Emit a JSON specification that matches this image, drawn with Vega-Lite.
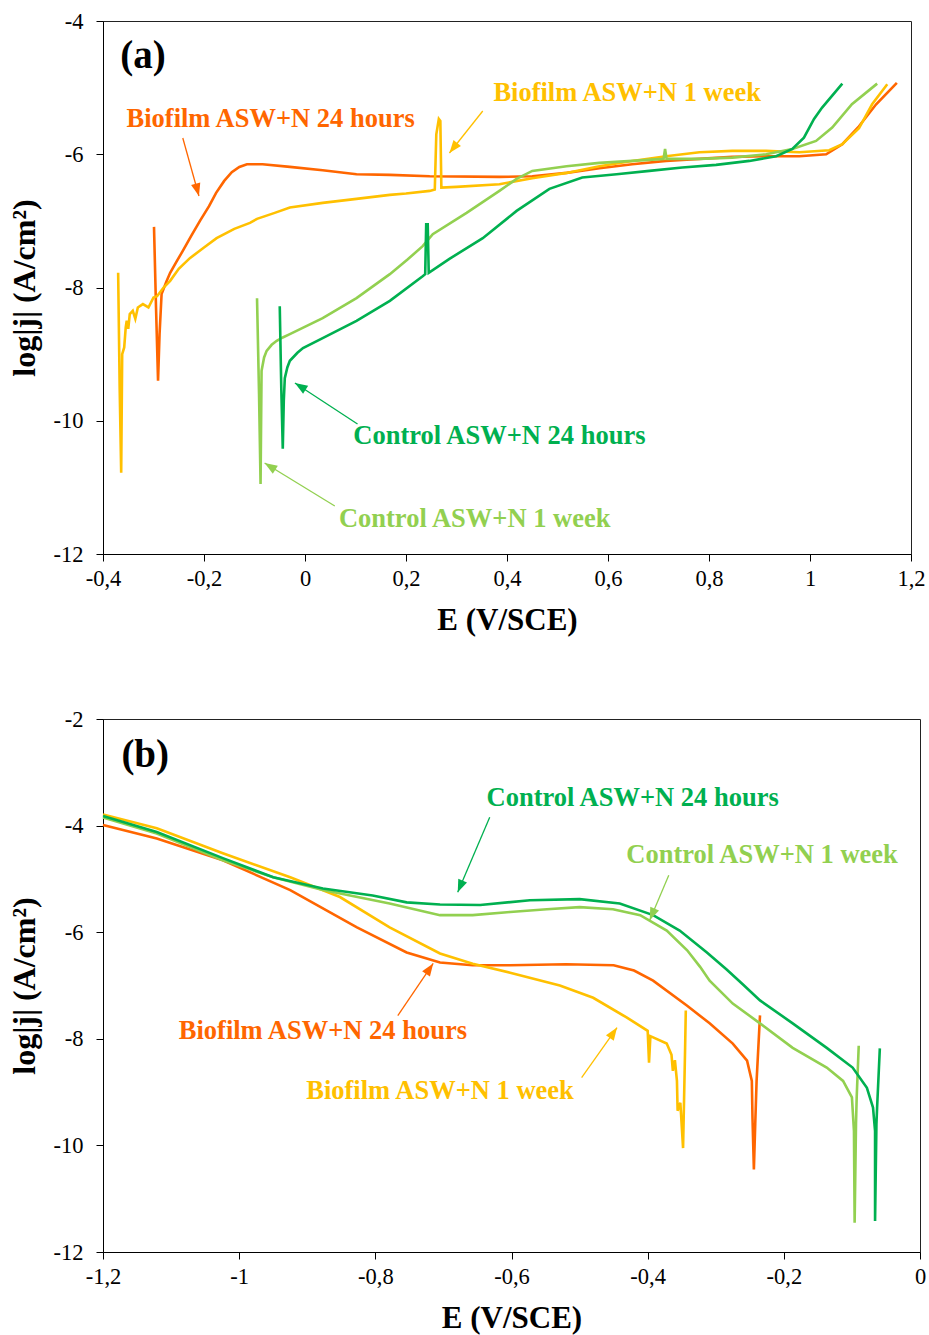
{
  "$schema": "https://vega.github.io/schema/vega-lite/v6.json",
  "padding": {"left": 7, "top": 9, "right": 3, "bottom": 1},
  "background": "white",
  "spacing": 71,
  "datasets": {
    "curvesA": [
      {"s":"B24","x":-0.299,"y":-7.09},{"s":"B24","x":-0.295,"y":-8.3},{"s":"B24","x":-0.291,"y":-9.40},{"s":"B24","x":-0.288,"y":-8.7},{"s":"B24","x":-0.284,"y":-8.1},{"s":"B24","x":-0.275,"y":-7.92},{"s":"B24","x":-0.267,"y":-7.78},{"s":"B24","x":-0.255,"y":-7.62},{"s":"B24","x":-0.242,"y":-7.45},{"s":"B24","x":-0.225,"y":-7.22},{"s":"B24","x":-0.208,"y":-7.0},{"s":"B24","x":-0.19,"y":-6.78},{"s":"B24","x":-0.176,"y":-6.58},{"s":"B24","x":-0.16,"y":-6.4},{"s":"B24","x":-0.145,"y":-6.27},{"s":"B24","x":-0.13,"y":-6.19},{"s":"B24","x":-0.115,"y":-6.15},{"s":"B24","x":-0.084,"y":-6.15},{"s":"B24","x":-0.03,"y":-6.19},{"s":"B24","x":0.035,"y":-6.24},{"s":"B24","x":0.102,"y":-6.30},{"s":"B24","x":0.168,"y":-6.31},{"s":"B24","x":0.247,"y":-6.33},{"s":"B24","x":0.385,"y":-6.34},{"s":"B24","x":0.45,"y":-6.33},{"s":"B24","x":0.518,"y":-6.28},{"s":"B24","x":0.583,"y":-6.21},{"s":"B24","x":0.648,"y":-6.15},{"s":"B24","x":0.715,"y":-6.10},{"s":"B24","x":0.781,"y":-6.07},{"s":"B24","x":0.846,"y":-6.04},{"s":"B24","x":0.913,"y":-6.03},{"s":"B24","x":0.979,"y":-6.03},{"s":"B24","x":1.032,"y":-6.00},{"s":"B24","x":1.064,"y":-5.85},{"s":"B24","x":1.097,"y":-5.58},{"s":"B24","x":1.131,"y":-5.25},{"s":"B24","x":1.172,"y":-4.93},
      {"s":"B1w","x":-0.370,"y":-7.78},{"s":"B1w","x":-0.367,"y":-9.5},{"s":"B1w","x":-0.364,"y":-10.78},{"s":"B1w","x":-0.362,"y":-9.0},{"s":"B1w","x":-0.358,"y":-8.9},{"s":"B1w","x":-0.355,"y":-8.6},{"s":"B1w","x":-0.353,"y":-8.5},{"s":"B1w","x":-0.350,"y":-8.62},{"s":"B1w","x":-0.347,"y":-8.4},{"s":"B1w","x":-0.341,"y":-8.35},{"s":"B1w","x":-0.336,"y":-8.47},{"s":"B1w","x":-0.331,"y":-8.3},{"s":"B1w","x":-0.321,"y":-8.25},{"s":"B1w","x":-0.31,"y":-8.3},{"s":"B1w","x":-0.30,"y":-8.15},{"s":"B1w","x":-0.293,"y":-8.13},{"s":"B1w","x":-0.28,"y":-8.0},{"s":"B1w","x":-0.267,"y":-7.90},{"s":"B1w","x":-0.25,"y":-7.72},{"s":"B1w","x":-0.228,"y":-7.56},{"s":"B1w","x":-0.2,"y":-7.4},{"s":"B1w","x":-0.175,"y":-7.26},{"s":"B1w","x":-0.14,"y":-7.12},{"s":"B1w","x":-0.109,"y":-7.03},{"s":"B1w","x":-0.095,"y":-6.97},{"s":"B1w","x":-0.06,"y":-6.88},{"s":"B1w","x":-0.03,"y":-6.80},{"s":"B1w","x":0.035,"y":-6.73},{"s":"B1w","x":0.102,"y":-6.67},{"s":"B1w","x":0.168,"y":-6.61},{"s":"B1w","x":0.20,"y":-6.59},{"s":"B1w","x":0.247,"y":-6.55},{"s":"B1w","x":0.257,"y":-6.53},{"s":"B1w","x":0.260,"y":-5.7},{"s":"B1w","x":0.265,"y":-5.47},{"s":"B1w","x":0.268,"y":-5.5},{"s":"B1w","x":0.270,"y":-6.5},{"s":"B1w","x":0.30,"y":-6.49},{"s":"B1w","x":0.385,"y":-6.45},{"s":"B1w","x":0.45,"y":-6.36},{"s":"B1w","x":0.518,"y":-6.28},{"s":"B1w","x":0.583,"y":-6.18},{"s":"B1w","x":0.648,"y":-6.10},{"s":"B1w","x":0.715,"y":-6.03},{"s":"B1w","x":0.781,"y":-5.97},{"s":"B1w","x":0.846,"y":-5.95},{"s":"B1w","x":0.913,"y":-5.95},{"s":"B1w","x":0.979,"y":-5.97},{"s":"B1w","x":1.038,"y":-5.94},{"s":"B1w","x":1.064,"y":-5.85},{"s":"B1w","x":1.097,"y":-5.61},{"s":"B1w","x":1.123,"y":-5.25},{"s":"B1w","x":1.153,"y":-4.95},
      {"s":"C1w","x":-0.095,"y":-8.16},{"s":"C1w","x":-0.091,"y":-9.6},{"s":"C1w","x":-0.088,"y":-10.95},{"s":"C1w","x":-0.086,"y":-9.25},{"s":"C1w","x":-0.081,"y":-9.05},{"s":"C1w","x":-0.076,"y":-8.95},{"s":"C1w","x":-0.066,"y":-8.86},{"s":"C1w","x":-0.056,"y":-8.80},{"s":"C1w","x":-0.044,"y":-8.75},{"s":"C1w","x":-0.03,"y":-8.70},{"s":"C1w","x":0.035,"y":-8.46},{"s":"C1w","x":0.102,"y":-8.16},{"s":"C1w","x":0.168,"y":-7.80},{"s":"C1w","x":0.203,"y":-7.58},{"s":"C1w","x":0.233,"y":-7.38},{"s":"C1w","x":0.253,"y":-7.20},{"s":"C1w","x":0.32,"y":-6.88},{"s":"C1w","x":0.385,"y":-6.55},{"s":"C1w","x":0.419,"y":-6.37},{"s":"C1w","x":0.45,"y":-6.25},{"s":"C1w","x":0.518,"y":-6.18},{"s":"C1w","x":0.583,"y":-6.13},{"s":"C1w","x":0.648,"y":-6.10},{"s":"C1w","x":0.710,"y":-6.07},{"s":"C1w","x":0.713,"y":-5.92},{"s":"C1w","x":0.716,"y":-6.07},{"s":"C1w","x":0.781,"y":-6.07},{"s":"C1w","x":0.846,"y":-6.05},{"s":"C1w","x":0.913,"y":-6.00},{"s":"C1w","x":0.965,"y":-5.92},{"s":"C1w","x":1.012,"y":-5.80},{"s":"C1w","x":1.044,"y":-5.60},{"s":"C1w","x":1.083,"y":-5.25},{"s":"C1w","x":1.133,"y":-4.94},
      {"s":"C24","x":-0.050,"y":-8.28},{"s":"C24","x":-0.047,"y":-9.5},{"s":"C24","x":-0.044,"y":-10.42},{"s":"C24","x":-0.042,"y":-9.7},{"s":"C24","x":-0.040,"y":-9.36},{"s":"C24","x":-0.035,"y":-9.2},{"s":"C24","x":-0.030,"y":-9.10},{"s":"C24","x":-0.015,"y":-8.98},{"s":"C24","x":-0.004,"y":-8.91},{"s":"C24","x":0.035,"y":-8.76},{"s":"C24","x":0.102,"y":-8.50},{"s":"C24","x":0.168,"y":-8.20},{"s":"C24","x":0.233,"y":-7.83},{"s":"C24","x":0.238,"y":-7.80},{"s":"C24","x":0.240,"y":-7.05},{"s":"C24","x":0.243,"y":-7.05},{"s":"C24","x":0.245,"y":-7.78},{"s":"C24","x":0.286,"y":-7.57},{"s":"C24","x":0.352,"y":-7.26},{"s":"C24","x":0.419,"y":-6.85},{"s":"C24","x":0.484,"y":-6.52},{"s":"C24","x":0.549,"y":-6.35},{"s":"C24","x":0.617,"y":-6.30},{"s":"C24","x":0.682,"y":-6.25},{"s":"C24","x":0.747,"y":-6.20},{"s":"C24","x":0.814,"y":-6.16},{"s":"C24","x":0.88,"y":-6.10},{"s":"C24","x":0.933,"y":-6.03},{"s":"C24","x":0.965,"y":-5.92},{"s":"C24","x":0.988,"y":-5.75},{"s":"C24","x":1.008,"y":-5.47},{"s":"C24","x":1.024,"y":-5.30},{"s":"C24","x":1.064,"y":-4.94}
    ],
    "curvesB": [
      {"s":"B24","x":-1.2,"y":-3.99},{"s":"B24","x":-1.121,"y":-4.24},{"s":"B24","x":-1.024,"y":-4.65},{"s":"B24","x":-0.925,"y":-5.21},{"s":"B24","x":-0.827,"y":-5.91},{"s":"B24","x":-0.754,"y":-6.38},{"s":"B24","x":-0.705,"y":-6.57},{"s":"B24","x":-0.657,"y":-6.62},{"s":"B24","x":-0.602,"y":-6.62},{"s":"B24","x":-0.52,"y":-6.6},{"s":"B24","x":-0.45,"y":-6.62},{"s":"B24","x":-0.42,"y":-6.72},{"s":"B24","x":-0.392,"y":-6.91},{"s":"B24","x":-0.342,"y":-7.38},{"s":"B24","x":-0.309,"y":-7.71},{"s":"B24","x":-0.275,"y":-8.09},{"s":"B24","x":-0.254,"y":-8.41},{"s":"B24","x":-0.247,"y":-8.79},{"s":"B24","x":-0.246,"y":-9.5},{"s":"B24","x":-0.244,"y":-10.45},{"s":"B24","x":-0.242,"y":-9.6},{"s":"B24","x":-0.240,"y":-8.79},{"s":"B24","x":-0.235,"y":-7.56},
      {"s":"B1w","x":-1.2,"y":-3.79},{"s":"B1w","x":-1.121,"y":-4.05},{"s":"B1w","x":-1.024,"y":-4.52},{"s":"B1w","x":-0.925,"y":-4.97},{"s":"B1w","x":-0.852,"y":-5.34},{"s":"B1w","x":-0.779,"y":-5.91},{"s":"B1w","x":-0.705,"y":-6.40},{"s":"B1w","x":-0.657,"y":-6.59},{"s":"B1w","x":-0.602,"y":-6.76},{"s":"B1w","x":-0.529,"y":-7.0},{"s":"B1w","x":-0.48,"y":-7.23},{"s":"B1w","x":-0.431,"y":-7.60},{"s":"B1w","x":-0.40,"y":-7.85},{"s":"B1w","x":-0.398,"y":-8.45},{"s":"B1w","x":-0.396,"y":-7.95},{"s":"B1w","x":-0.372,"y":-8.09},{"s":"B1w","x":-0.365,"y":-8.3},{"s":"B1w","x":-0.363,"y":-8.6},{"s":"B1w","x":-0.36,"y":-8.4},{"s":"B1w","x":-0.357,"y":-8.79},{"s":"B1w","x":-0.356,"y":-9.35},{"s":"B1w","x":-0.352,"y":-9.2},{"s":"B1w","x":-0.348,"y":-10.05},{"s":"B1w","x":-0.345,"y":-8.17},{"s":"B1w","x":-0.344,"y":-7.47},
      {"s":"C1w","x":-1.2,"y":-3.85},{"s":"C1w","x":-1.121,"y":-4.15},{"s":"C1w","x":-1.024,"y":-4.65},{"s":"C1w","x":-0.95,"y":-4.97},{"s":"C1w","x":-0.877,"y":-5.21},{"s":"C1w","x":-0.779,"y":-5.46},{"s":"C1w","x":-0.705,"y":-5.68},{"s":"C1w","x":-0.657,"y":-5.68},{"s":"C1w","x":-0.602,"y":-5.62},{"s":"C1w","x":-0.548,"y":-5.57},{"s":"C1w","x":-0.5,"y":-5.53},{"s":"C1w","x":-0.451,"y":-5.57},{"s":"C1w","x":-0.411,"y":-5.68},{"s":"C1w","x":-0.372,"y":-5.97},{"s":"C1w","x":-0.342,"y":-6.34},{"s":"C1w","x":-0.323,"y":-6.65},{"s":"C1w","x":-0.309,"y":-6.91},{"s":"C1w","x":-0.275,"y":-7.34},{"s":"C1w","x":-0.235,"y":-7.71},{"s":"C1w","x":-0.187,"y":-8.17},{"s":"C1w","x":-0.137,"y":-8.54},{"s":"C1w","x":-0.113,"y":-8.79},{"s":"C1w","x":-0.1,"y":-9.10},{"s":"C1w","x":-0.097,"y":-9.73},{"s":"C1w","x":-0.096,"y":-11.45},{"s":"C1w","x":-0.094,"y":-9.6},{"s":"C1w","x":-0.093,"y":-9.10},{"s":"C1w","x":-0.09,"y":-8.13},
      {"s":"C24","x":-1.2,"y":-3.82},{"s":"C24","x":-1.121,"y":-4.12},{"s":"C24","x":-1.024,"y":-4.61},{"s":"C24","x":-0.95,"y":-4.97},{"s":"C24","x":-0.877,"y":-5.18},{"s":"C24","x":-0.804,"y":-5.31},{"s":"C24","x":-0.754,"y":-5.44},{"s":"C24","x":-0.705,"y":-5.48},{"s":"C24","x":-0.646,"y":-5.49},{"s":"C24","x":-0.573,"y":-5.40},{"s":"C24","x":-0.5,"y":-5.38},{"s":"C24","x":-0.441,"y":-5.46},{"s":"C24","x":-0.392,"y":-5.68},{"s":"C24","x":-0.353,"y":-5.97},{"s":"C24","x":-0.313,"y":-6.38},{"s":"C24","x":-0.284,"y":-6.70},{"s":"C24","x":-0.26,"y":-6.98},{"s":"C24","x":-0.235,"y":-7.28},{"s":"C24","x":-0.187,"y":-7.71},{"s":"C24","x":-0.137,"y":-8.17},{"s":"C24","x":-0.099,"y":-8.54},{"s":"C24","x":-0.078,"y":-8.92},{"s":"C24","x":-0.069,"y":-9.29},{"s":"C24","x":-0.066,"y":-9.73},{"s":"C24","x":-0.066,"y":-11.42},{"s":"C24","x":-0.064,"y":-9.6},{"s":"C24","x":-0.063,"y":-9.29},{"s":"C24","x":-0.059,"y":-8.18}
    ],
    "notesA": [
      {"s":"B24","t":"Biofilm ASW+N 24 hours","x":-0.068,"y":-5.47,"ax":-0.242,"ay":-5.756,"tx":-0.210,"ty":-6.626},
      {"s":"B1w","t":"Biofilm ASW+N 1 week","x":0.638,"y":-5.08,"ax":0.352,"ay":-5.351,"tx":0.286,"ty":-5.981},
      {"s":"C24","t":"Control ASW+N 24 hours","x":0.385,"y":-10.23,"ax":0.104,"ay":-10.048,"tx":-0.020,"ty":-9.433},
      {"s":"C1w","t":"Control ASW+N 1 week","x":0.336,"y":-11.47,"ax":0.059,"ay":-11.279,"tx":-0.080,"ty":-10.634}
    ],
    "notesB": [
      {"s":"C24","t":"Control ASW+N 24 hours","x":-0.422,"y":-3.485,"ax":-0.632,"ay":-3.842,"tx":-0.679,"ty":-5.252},
      {"s":"C1w","t":"Control ASW+N 1 week","x":-0.232,"y":-4.556,"ax":-0.369,"ay":-4.932,"tx":-0.397,"ty":-5.778},
      {"s":"B24","t":"Biofilm ASW+N 24 hours","x":-0.877,"y":-7.846,"ax":-0.767,"ay":-7.564,"tx":-0.715,"ty":-6.586},
      {"s":"B1w","t":"Biofilm ASW+N 1 week","x":-0.705,"y":-8.974,"ax":-0.497,"ay":-8.729,"tx":-0.445,"ty":-7.789}
    ],
    "tagA": [{"t":"(a)","x":-0.321,"y":-4.525}],
    "tagB": [{"t":"(b)","x":-1.138,"y":-2.677}]
  },
  "vconcat": [
    {
      "width": 808,
      "height": 533,
      "layer": [
        {
          "data": {"name": "curvesA"},
          "mark": {"type": "line", "strokeWidth": 2.6},
          "encoding": {
            "x": {"field": "x", "type": "quantitative", "title": "E (V/SCE)", "scale": {"domain": [-0.4, 1.2], "nice": false, "zero": false},
                  "axis": {"values": [-0.4,-0.2,0,0.2,0.4,0.6,0.8,1,1.2], "labelExpr": "replace(toString(round(datum.value*10)/10), '.', ',')"}},
            "y": {"field": "y", "type": "quantitative", "title": "log|j| (A/cm²)", "scale": {"domain": [-12, -4], "nice": false, "zero": false},
                  "axis": {"values": [-12,-10,-8,-6,-4], "labelExpr": "toString(datum.value)"}},
            "color": {"field": "s", "type": "nominal", "scale": {"domain": ["B24","B1w","C24","C1w"], "range": ["#FF6600","#FFC000","#00B050","#92D050"]}, "legend": null},
            "order": {"value": null}
          }
        },
        {
          "data": {"name": "notesA"},
          "mark": {"type": "rule", "strokeWidth": 1.3},
          "encoding": {
            "x": {"field": "ax", "type": "quantitative", "title": "E (V/SCE)"},
            "y": {"field": "ay", "type": "quantitative", "title": "log|j| (A/cm²)"},
            "x2": {"field": "tx"},
            "y2": {"field": "ty"},
            "color": {"field": "s", "type": "nominal", "legend": null}
          }
        },
        {
          "data": {"name": "notesA"},
          "transform": [{"filter": "datum.s == 'B24'"}],
          "mark": {"type": "point", "shape": "M0,0L-0.75,2L0.75,2Z", "filled": true, "size": 160, "angle": 165, "opacity": 1},
          "encoding": {
            "x": {"field": "tx", "type": "quantitative", "title": "E (V/SCE)"},
            "y": {"field": "ty", "type": "quantitative", "title": "log|j| (A/cm²)"},
            "color": {"field": "s", "type": "nominal", "legend": null}
          }
        },
        {
          "data": {"name": "notesA"},
          "transform": [{"filter": "datum.s == 'B1w'"}],
          "mark": {"type": "point", "shape": "M0,0L-0.75,2L0.75,2Z", "filled": true, "size": 160, "angle": 218, "opacity": 1},
          "encoding": {
            "x": {"field": "tx", "type": "quantitative", "title": "E (V/SCE)"},
            "y": {"field": "ty", "type": "quantitative", "title": "log|j| (A/cm²)"},
            "color": {"field": "s", "type": "nominal", "legend": null}
          }
        },
        {
          "data": {"name": "notesA"},
          "transform": [{"filter": "datum.s == 'C24' || datum.s == 'C1w'"}],
          "mark": {"type": "point", "shape": "M0,0L-0.75,2L0.75,2Z", "filled": true, "size": 160, "angle": 302, "opacity": 1},
          "encoding": {
            "x": {"field": "tx", "type": "quantitative", "title": "E (V/SCE)"},
            "y": {"field": "ty", "type": "quantitative", "title": "log|j| (A/cm²)"},
            "color": {"field": "s", "type": "nominal", "legend": null}
          }
        },
        {
          "data": {"name": "notesA"},
          "mark": {"type": "text", "font": "Liberation Serif", "fontWeight": "bold", "fontSize": 26.5, "align": "center", "baseline": "middle"},
          "encoding": {
            "x": {"field": "x", "type": "quantitative", "title": "E (V/SCE)"},
            "y": {"field": "y", "type": "quantitative", "title": "log|j| (A/cm²)"},
            "text": {"field": "t"},
            "color": {"field": "s", "type": "nominal", "legend": null}
          }
        },
        {
          "data": {"name": "tagA"},
          "mark": {"type": "text", "font": "Liberation Serif", "fontWeight": "bold", "fontSize": 39, "align": "center", "baseline": "middle", "color": "#000"},
          "encoding": {
            "x": {"field": "x", "type": "quantitative", "title": "E (V/SCE)"},
            "y": {"field": "y", "type": "quantitative", "title": "log|j| (A/cm²)"},
            "text": {"field": "t"}
          }
        }
      ]
    },
    {
      "width": 817,
      "height": 533,
      "layer": [
        {
          "data": {"name": "curvesB"},
          "mark": {"type": "line", "strokeWidth": 2.6},
          "encoding": {
            "x": {"field": "x", "type": "quantitative", "title": "E (V/SCE)", "scale": {"domain": [-1.2, 0], "nice": false, "zero": false},
                  "axis": {"values": [-1.2,-1,-0.8,-0.6,-0.4,-0.2,0], "labelExpr": "replace(toString(round(datum.value*10)/10), '.', ',')"}},
            "y": {"field": "y", "type": "quantitative", "title": "log|j| (A/cm²)", "scale": {"domain": [-12, -2], "nice": false, "zero": false},
                  "axis": {"values": [-12,-10,-8,-6,-4,-2], "labelExpr": "toString(datum.value)"}},
            "color": {"field": "s", "type": "nominal", "scale": {"domain": ["B24","B1w","C24","C1w"], "range": ["#FF6600","#FFC000","#00B050","#92D050"]}, "legend": null},
            "order": {"value": null}
          }
        },
        {
          "data": {"name": "notesB"},
          "mark": {"type": "rule", "strokeWidth": 1.3},
          "encoding": {
            "x": {"field": "ax", "type": "quantitative", "title": "E (V/SCE)"},
            "y": {"field": "ay", "type": "quantitative", "title": "log|j| (A/cm²)"},
            "x2": {"field": "tx"},
            "y2": {"field": "ty"},
            "color": {"field": "s", "type": "nominal", "legend": null}
          }
        },
        {
          "data": {"name": "notesB"},
          "transform": [{"filter": "datum.s == 'C24' || datum.s == 'C1w'"}],
          "mark": {"type": "point", "shape": "M0,0L-0.75,2L0.75,2Z", "filled": true, "size": 160, "angle": 203, "opacity": 1},
          "encoding": {
            "x": {"field": "tx", "type": "quantitative", "title": "E (V/SCE)"},
            "y": {"field": "ty", "type": "quantitative", "title": "log|j| (A/cm²)"},
            "color": {"field": "s", "type": "nominal", "legend": null}
          }
        },
        {
          "data": {"name": "notesB"},
          "transform": [{"filter": "datum.s == 'B24' || datum.s == 'B1w'"}],
          "mark": {"type": "point", "shape": "M0,0L-0.75,2L0.75,2Z", "filled": true, "size": 160, "angle": 34.5, "opacity": 1},
          "encoding": {
            "x": {"field": "tx", "type": "quantitative", "title": "E (V/SCE)"},
            "y": {"field": "ty", "type": "quantitative", "title": "log|j| (A/cm²)"},
            "color": {"field": "s", "type": "nominal", "legend": null}
          }
        },
        {
          "data": {"name": "notesB"},
          "mark": {"type": "text", "font": "Liberation Serif", "fontWeight": "bold", "fontSize": 26.5, "align": "center", "baseline": "middle"},
          "encoding": {
            "x": {"field": "x", "type": "quantitative", "title": "E (V/SCE)"},
            "y": {"field": "y", "type": "quantitative", "title": "log|j| (A/cm²)"},
            "text": {"field": "t"},
            "color": {"field": "s", "type": "nominal", "legend": null}
          }
        },
        {
          "data": {"name": "tagB"},
          "mark": {"type": "text", "font": "Liberation Serif", "fontWeight": "bold", "fontSize": 39, "align": "center", "baseline": "middle", "color": "#000"},
          "encoding": {
            "x": {"field": "x", "type": "quantitative", "title": "E (V/SCE)"},
            "y": {"field": "y", "type": "quantitative", "title": "log|j| (A/cm²)"},
            "text": {"field": "t"}
          }
        }
      ]
    }
  ],
  "config": {
    "font": "Liberation Serif",
    "view": {"stroke": "#222", "strokeWidth": 1},
    "axis": {
      "domainColor": "#000", "tickColor": "#000", "labelColor": "#000", "titleColor": "#000",
      "labelFont": "Liberation Serif", "titleFont": "Liberation Serif",
      "labelFontSize": 22.5, "titleFontWeight": "bold",
      "grid": false, "tickSize": 7, "labelFlush": false, "labelOverlap": false
    },
    "axisX": {"labelPadding": 6, "titlePadding": 16, "titleFontSize": 31},
    "axisY": {"labelPadding": 13, "titlePadding": 12, "titleFontSize": 32}
  }
}
